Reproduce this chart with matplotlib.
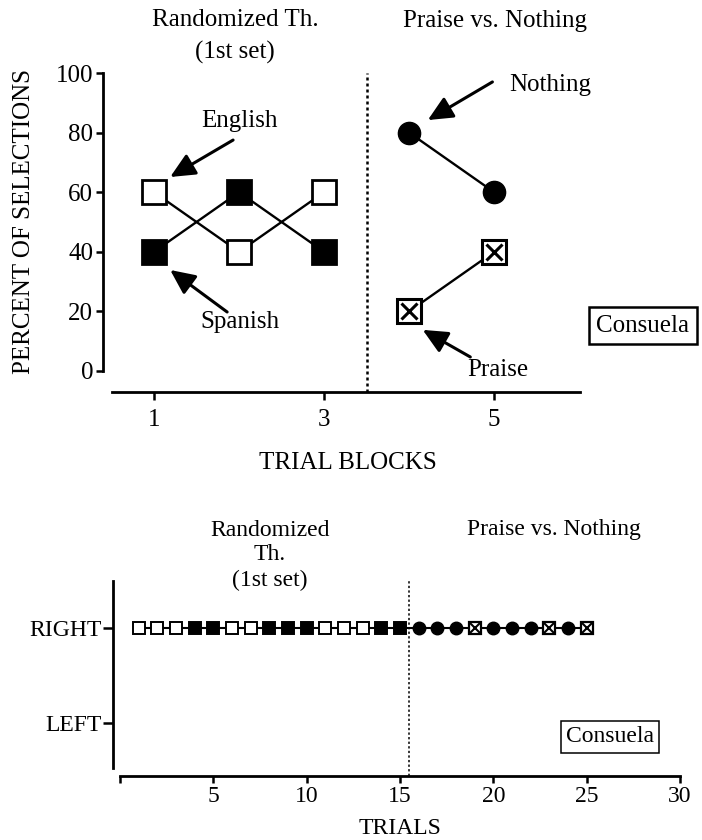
import matplotlib
matplotlib.use('Agg')
import matplotlib.pyplot as plt

plt.rcParams['font.family'] = ['Liberation Serif', 'DejaVu Serif']

# ---------------- data ----------------
blocks_lang = [1, 2, 3]
english_pct = [60, 40, 60]
spanish_pct = [40, 60, 40]
blocks_cons = [4, 5]
nothing_pct = [80, 60]
praise_pct = [20, 40]
block_ticks = [1, 3, 5]
pct_ticks = [0, 20, 40, 60, 80, 100]

trials = list(range(1, 26))
trial_cond = (['English'] * 3 + ['Spanish'] * 2 + ['English'] * 2 + ['Spanish'] * 3 +
              ['English'] * 3 + ['Spanish'] * 2 +
              ['Nothing'] * 3 + ['Praise'] + ['Nothing'] * 3 + ['Praise'] +
              ['Nothing'] + ['Praise'])
trial_side = ['RIGHT'] * 25
side_labels = ['LEFT', 'RIGHT']
trial_ticks = [0, 5, 10, 15, 20, 25, 30]

# ---------------- figure ----------------
W, H = 702, 840
fig = plt.figure(figsize=(W / 100, H / 100), dpi=100)


def rect(l, t, r, b):
    return [l / W, 1 - b / H, (r - l) / W, (b - t) / H]


def ftext(x, y, s, **kw):
    fig.text(x / W, 1 - y / H, s, ha='center', va='center', **kw)


def arrow(ax, tail, head):
    ax.annotate('', xy=head, xytext=tail,
                arrowprops=dict(arrowstyle='-|>,head_length=0.75,head_width=0.35',
                                color='k', lw=2.2, shrinkA=0, shrinkB=0,
                                mutation_scale=20), annotation_clip=False)


# ---------------- top panel ----------------
ax1 = fig.add_axes(rect(103, 73, 580, 392))
ax1.set_xlim(0.4, 6.01)
ax1.set_ylim(-7.05, 100)
for s in ['top', 'right']:
    ax1.spines[s].set_visible(False)
ax1.spines['left'].set_bounds(0, 100)
ax1.spines['bottom'].set_bounds(0.5, 6.01)
for s in ['left', 'bottom']:
    ax1.spines[s].set_linewidth(2)
ax1.set_xticks(block_ticks)
ax1.set_yticks(pct_ticks)
ax1.tick_params(axis='y', length=5, width=1.8, pad=2, labelsize=18)
ax1.tick_params(axis='x', length=6, width=1.8, pad=6, labelsize=18)

ax1.axvline(3.5, color='k', lw=1.8, linestyle=(0, (1.2, 1.2)))

lkw = dict(color='k', lw=1.7)
ax1.plot(blocks_lang, english_pct, '-', **lkw)
ax1.plot(blocks_lang, spanish_pct, '-', **lkw)
ax1.plot(blocks_cons, nothing_pct, '-', **lkw)
ax1.plot(blocks_cons, praise_pct, '-', **lkw)
ax1.plot(blocks_lang, english_pct, 's', ms=17, mfc='white', mec='k', mew=2, zorder=3)
ax1.plot(blocks_lang, spanish_pct, 's', ms=17, mfc='k', mec='k', mew=2, zorder=3)
ax1.plot(blocks_cons, nothing_pct, 'o', ms=16, mfc='k', mec='k', zorder=3)
ax1.plot(blocks_cons, praise_pct, 's', ms=17, mfc='white', mec='k', mew=2.2, zorder=3)
ax1.plot(blocks_cons, praise_pct, 'x', ms=12, mec='k', mew=2.2, zorder=4)

ax1.text(2.01, 83.9, 'English', ha='center', va='center', fontsize=18)
arrow(ax1, (1.93, 77.5), (1.19, 65.1))
ax1.text(2.01, 16.4, 'Spanish', ha='center', va='center', fontsize=18)
arrow(ax1, (1.86, 19.8), (1.19, 33.9))
ax1.text(5.66, 96.0, 'Nothing', ha='center', va='center', fontsize=18, clip_on=False)
arrow(ax1, (4.98, 97.0), (4.22, 84.2))
ax1.text(5.04, 0.3, 'Praise', ha='center', va='center', fontsize=18)
arrow(ax1, (4.72, 4.7), (4.16, 13.8))

ax1.text(6.75, 15.1, 'Consuela', ha='center', va='center', fontsize=18, clip_on=False,
         bbox=dict(boxstyle='square,pad=0.3', fc='white', ec='k', lw=1.8))

ftext(235, 20, 'Randomized Th.', fontsize=18)
ftext(235, 52, '(1st set)', fontsize=18)
ftext(495, 21, 'Praise vs. Nothing', fontsize=18)
fig.text(24 / W, 1 - 221 / H, 'PERCENT OF SELECTIONS', rotation=90,
         ha='center', va='center', fontsize=18)
ftext(348, 463, 'TRIAL BLOCKS', fontsize=18)

# ---------------- bottom panel ----------------
ax2 = fig.add_axes(rect(113, 581, 700, 776))
ax2.set_xlim(-0.375, 31.07)
ax2.set_ylim(-0.558, 1.495)
for s in ['top', 'right']:
    ax2.spines[s].set_visible(False)
ax2.spines['left'].set_bounds(-0.47, 1.495)
ax2.spines['bottom'].set_bounds(0, 30)
for s in ['left', 'bottom']:
    ax2.spines[s].set_linewidth(2)
ax2.set_xticks(trial_ticks)
ax2.set_xticklabels([''] + [str(t) for t in trial_ticks[1:]])
ax2.set_yticks([0, 1])
ax2.set_yticklabels(side_labels)
ax2.tick_params(axis='y', length=7, width=1.8, pad=1, labelsize=17)
ax2.tick_params(axis='x', length=5, width=1.8, pad=2, labelsize=17)

ax2.axvline(15.5, color='k', lw=1.1, linestyle=(0, (1.5, 1.5)))

yvals = [side_labels.index(s) for s in trial_side]
ax2.plot(trials, yvals, '-', color='k', lw=1.5, zorder=2)
style = {
    'English': dict(marker='s', ms=9, mfc='white', mec='k', mew=1.4),
    'Spanish': dict(marker='s', ms=9, mfc='k', mec='k', mew=1.4),
    'Nothing': dict(marker='o', ms=9, mfc='k', mec='k', mew=1.0),
    'Praise': dict(marker='s', ms=9, mfc='white', mec='k', mew=1.6),
}
for cond, st in style.items():
    xs = [t for t, c in zip(trials, trial_cond) if c == cond]
    ys = [y for y, c in zip(yvals, trial_cond) if c == cond]
    ax2.plot(xs, ys, linestyle='none', zorder=3, **st)
    if cond == 'Praise':
        ax2.plot(xs, ys, 'x', ms=6.5, mec='k', mew=1.5, zorder=4)

ax2.text(26.25, -0.147, 'Consuela', ha='center', va='center', fontsize=17,
         bbox=dict(boxstyle='square,pad=0.22', fc='white', ec='k', lw=1.1))

ftext(270, 530, 'Randomized', fontsize=17)
ftext(270, 554, 'Th.', fontsize=17)
ftext(270, 580, '(1st set)', fontsize=17)
ftext(554, 530, 'Praise vs. Nothing', fontsize=17)
ftext(400, 828, 'TRIALS', fontsize=17)

fig.savefig('out.png', dpi=100)
